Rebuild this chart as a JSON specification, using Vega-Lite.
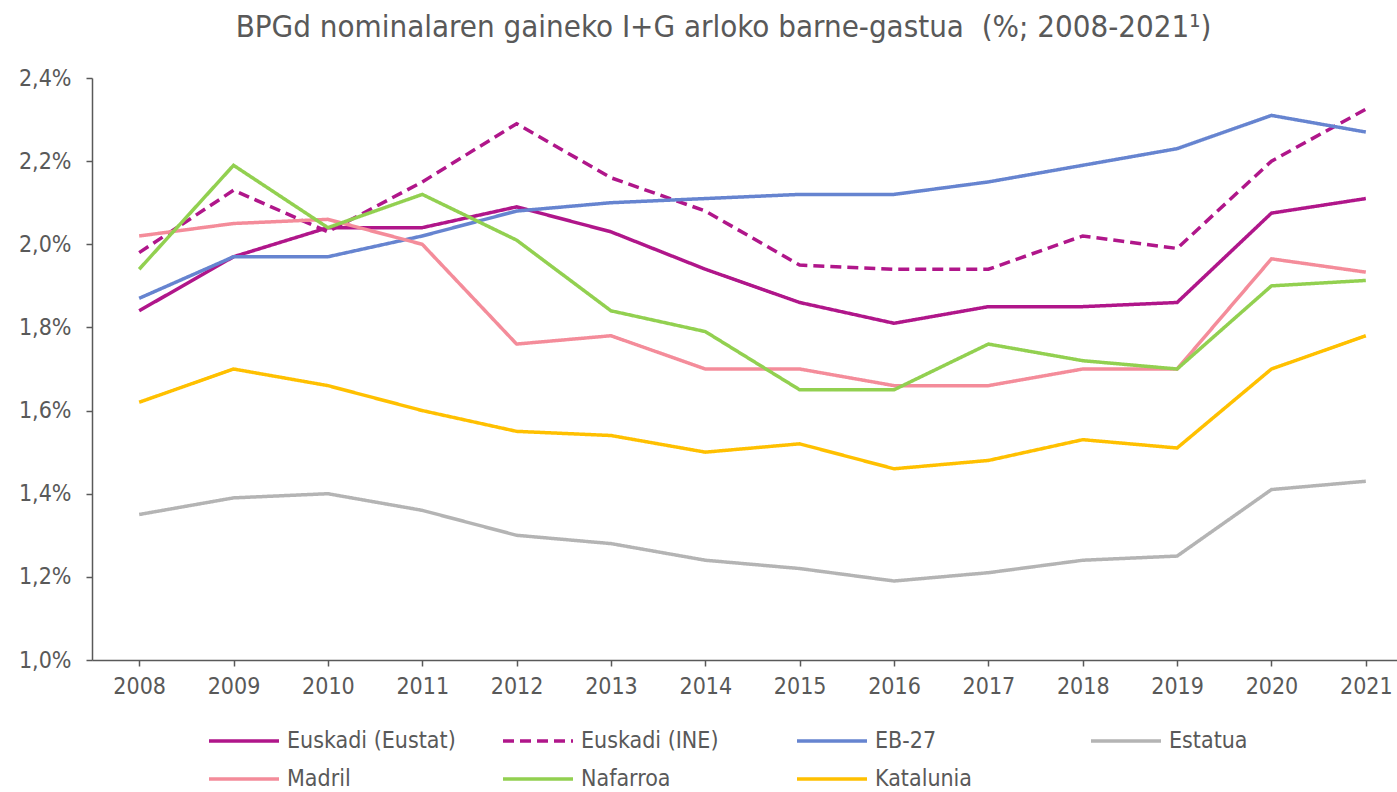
{
  "$schema": "https://vega.github.io/schema/vega-lite/v6.json",
  "width": 1321,
  "height": 582,
  "autosize": {"type": "none"},
  "padding": {"left": 92, "top": 78, "right": 0, "bottom": 132},
  "background": "white",
  "config": {"view": {"stroke": null}, "font": "DejaVu Sans Condensed"},
  "title": {
    "text": "BPGd nominalaren gaineko I+G arloko barne-gastua \u00a0(%; 2008-2021¹)",
    "fontSize": 31,
    "fontWeight": "normal",
    "color": "#595959",
    "anchor": "middle",
    "dx": -29,
    "offset": 23
  },
  "data": {
    "values": [
      {"year": "2008", "series": "Euskadi (Eustat)", "value": 1.84},
      {"year": "2009", "series": "Euskadi (Eustat)", "value": 1.97},
      {"year": "2010", "series": "Euskadi (Eustat)", "value": 2.04},
      {"year": "2011", "series": "Euskadi (Eustat)", "value": 2.04},
      {"year": "2012", "series": "Euskadi (Eustat)", "value": 2.09},
      {"year": "2013", "series": "Euskadi (Eustat)", "value": 2.03},
      {"year": "2014", "series": "Euskadi (Eustat)", "value": 1.94},
      {"year": "2015", "series": "Euskadi (Eustat)", "value": 1.86},
      {"year": "2016", "series": "Euskadi (Eustat)", "value": 1.81},
      {"year": "2017", "series": "Euskadi (Eustat)", "value": 1.85},
      {"year": "2018", "series": "Euskadi (Eustat)", "value": 1.85},
      {"year": "2019", "series": "Euskadi (Eustat)", "value": 1.86},
      {"year": "2020", "series": "Euskadi (Eustat)", "value": 2.075},
      {"year": "2021", "series": "Euskadi (Eustat)", "value": 2.11},
      {"year": "2008", "series": "Euskadi (INE)", "value": 1.98},
      {"year": "2009", "series": "Euskadi (INE)", "value": 2.13},
      {"year": "2010", "series": "Euskadi (INE)", "value": 2.03},
      {"year": "2011", "series": "Euskadi (INE)", "value": 2.15},
      {"year": "2012", "series": "Euskadi (INE)", "value": 2.29},
      {"year": "2013", "series": "Euskadi (INE)", "value": 2.16},
      {"year": "2014", "series": "Euskadi (INE)", "value": 2.08},
      {"year": "2015", "series": "Euskadi (INE)", "value": 1.95},
      {"year": "2016", "series": "Euskadi (INE)", "value": 1.94},
      {"year": "2017", "series": "Euskadi (INE)", "value": 1.94},
      {"year": "2018", "series": "Euskadi (INE)", "value": 2.02},
      {"year": "2019", "series": "Euskadi (INE)", "value": 1.99},
      {"year": "2020", "series": "Euskadi (INE)", "value": 2.20},
      {"year": "2021", "series": "Euskadi (INE)", "value": 2.325},
      {"year": "2008", "series": "EB-27", "value": 1.87},
      {"year": "2009", "series": "EB-27", "value": 1.97},
      {"year": "2010", "series": "EB-27", "value": 1.97},
      {"year": "2011", "series": "EB-27", "value": 2.02},
      {"year": "2012", "series": "EB-27", "value": 2.08},
      {"year": "2013", "series": "EB-27", "value": 2.10},
      {"year": "2014", "series": "EB-27", "value": 2.11},
      {"year": "2015", "series": "EB-27", "value": 2.12},
      {"year": "2016", "series": "EB-27", "value": 2.12},
      {"year": "2017", "series": "EB-27", "value": 2.15},
      {"year": "2018", "series": "EB-27", "value": 2.19},
      {"year": "2019", "series": "EB-27", "value": 2.23},
      {"year": "2020", "series": "EB-27", "value": 2.31},
      {"year": "2021", "series": "EB-27", "value": 2.27},
      {"year": "2008", "series": "Estatua", "value": 1.35},
      {"year": "2009", "series": "Estatua", "value": 1.39},
      {"year": "2010", "series": "Estatua", "value": 1.40},
      {"year": "2011", "series": "Estatua", "value": 1.36},
      {"year": "2012", "series": "Estatua", "value": 1.30},
      {"year": "2013", "series": "Estatua", "value": 1.28},
      {"year": "2014", "series": "Estatua", "value": 1.24},
      {"year": "2015", "series": "Estatua", "value": 1.22},
      {"year": "2016", "series": "Estatua", "value": 1.19},
      {"year": "2017", "series": "Estatua", "value": 1.21},
      {"year": "2018", "series": "Estatua", "value": 1.24},
      {"year": "2019", "series": "Estatua", "value": 1.25},
      {"year": "2020", "series": "Estatua", "value": 1.41},
      {"year": "2021", "series": "Estatua", "value": 1.43},
      {"year": "2008", "series": "Madril", "value": 2.02},
      {"year": "2009", "series": "Madril", "value": 2.05},
      {"year": "2010", "series": "Madril", "value": 2.06},
      {"year": "2011", "series": "Madril", "value": 2.00},
      {"year": "2012", "series": "Madril", "value": 1.76},
      {"year": "2013", "series": "Madril", "value": 1.78},
      {"year": "2014", "series": "Madril", "value": 1.70},
      {"year": "2015", "series": "Madril", "value": 1.70},
      {"year": "2016", "series": "Madril", "value": 1.66},
      {"year": "2017", "series": "Madril", "value": 1.66},
      {"year": "2018", "series": "Madril", "value": 1.70},
      {"year": "2019", "series": "Madril", "value": 1.70},
      {"year": "2020", "series": "Madril", "value": 1.965},
      {"year": "2021", "series": "Madril", "value": 1.933},
      {"year": "2008", "series": "Nafarroa", "value": 1.94},
      {"year": "2009", "series": "Nafarroa", "value": 2.19},
      {"year": "2010", "series": "Nafarroa", "value": 2.04},
      {"year": "2011", "series": "Nafarroa", "value": 2.12},
      {"year": "2012", "series": "Nafarroa", "value": 2.01},
      {"year": "2013", "series": "Nafarroa", "value": 1.84},
      {"year": "2014", "series": "Nafarroa", "value": 1.79},
      {"year": "2015", "series": "Nafarroa", "value": 1.65},
      {"year": "2016", "series": "Nafarroa", "value": 1.65},
      {"year": "2017", "series": "Nafarroa", "value": 1.76},
      {"year": "2018", "series": "Nafarroa", "value": 1.72},
      {"year": "2019", "series": "Nafarroa", "value": 1.70},
      {"year": "2020", "series": "Nafarroa", "value": 1.90},
      {"year": "2021", "series": "Nafarroa", "value": 1.913},
      {"year": "2008", "series": "Katalunia", "value": 1.62},
      {"year": "2009", "series": "Katalunia", "value": 1.70},
      {"year": "2010", "series": "Katalunia", "value": 1.66},
      {"year": "2011", "series": "Katalunia", "value": 1.60},
      {"year": "2012", "series": "Katalunia", "value": 1.55},
      {"year": "2013", "series": "Katalunia", "value": 1.54},
      {"year": "2014", "series": "Katalunia", "value": 1.50},
      {"year": "2015", "series": "Katalunia", "value": 1.52},
      {"year": "2016", "series": "Katalunia", "value": 1.46},
      {"year": "2017", "series": "Katalunia", "value": 1.48},
      {"year": "2018", "series": "Katalunia", "value": 1.53},
      {"year": "2019", "series": "Katalunia", "value": 1.51},
      {"year": "2020", "series": "Katalunia", "value": 1.70},
      {"year": "2021", "series": "Katalunia", "value": 1.78}
    ]
  },
  "mark": {"type": "line", "strokeWidth": 3.5, "strokeCap": "butt"},
  "encoding": {
    "x": {
      "field": "year",
      "type": "ordinal",
      "scale": {"type": "point", "padding": 0.5},
      "axis": {
        "title": null,
        "labelAngle": 0,
        "labelFontSize": 23,
        "labelColor": "#595959",
        "domainColor": "#595959",
        "domainWidth": 1.5,
        "tickColor": "#595959",
        "tickWidth": 1.5,
        "tickSize": 6,
        "labelPadding": 9
      }
    },
    "y": {
      "field": "value",
      "type": "quantitative",
      "scale": {"domain": [1.0, 2.4], "nice": false, "zero": false},
      "axis": {
        "title": null,
        "grid": false,
        "values": [1.0, 1.2, 1.4, 1.6, 1.8, 2.0, 2.2, 2.4],
        "labelExpr": "replace(format(datum.value, '.1f'), '.', ',') + '%'",
        "labelFontSize": 23,
        "labelColor": "#595959",
        "domainColor": "#595959",
        "domainWidth": 1.5,
        "tickColor": "#595959",
        "tickWidth": 1.5,
        "tickSize": 6,
        "labelPadding": 15
      }
    },
    "color": {
      "field": "series",
      "type": "nominal",
      "scale": {
        "domain": ["Euskadi (Eustat)", "Euskadi (INE)", "EB-27", "Estatua", "Madril", "Nafarroa", "Katalunia"],
        "range": ["#B0168A", "#B0168A", "#6684D0", "#B4B4B4", "#F48C9A", "#92D050", "#FFC000"]
      },
      "legend": {
        "orient": "none",
        "direction": "horizontal",
        "legendX": 115,
        "legendY": 651,
        "columns": 4,
        "title": null,
        "labelFontSize": 23,
        "labelLimit": 400,
        "labelColor": "#595959",
        "symbolType": "M-1,0L6,0",
        "symbolSize": 400,
        "symbolStrokeWidth": 3.5,
        "rowPadding": 14,
        "columnPadding": 40,
        "gridAlign": "all",
        "labelOffset": 56
      }
    },
    "strokeDash": {
      "field": "series",
      "type": "nominal",
      "scale": {
        "domain": ["Euskadi (Eustat)", "Euskadi (INE)", "EB-27", "Estatua", "Madril", "Nafarroa", "Katalunia"],
        "range": [[1, 0], [11, 6], [1, 0], [1, 0], [1, 0], [1, 0], [1, 0]]
      },
      "legend": {
        "orient": "none",
        "direction": "horizontal",
        "legendX": 115,
        "legendY": 651,
        "columns": 4,
        "title": null,
        "labelFontSize": 23,
        "labelLimit": 400,
        "labelColor": "#595959",
        "symbolType": "M-1,0L6,0",
        "symbolSize": 400,
        "symbolStrokeWidth": 3.5,
        "rowPadding": 14,
        "columnPadding": 40,
        "gridAlign": "all",
        "labelOffset": 56
      }
    }
  }
}
